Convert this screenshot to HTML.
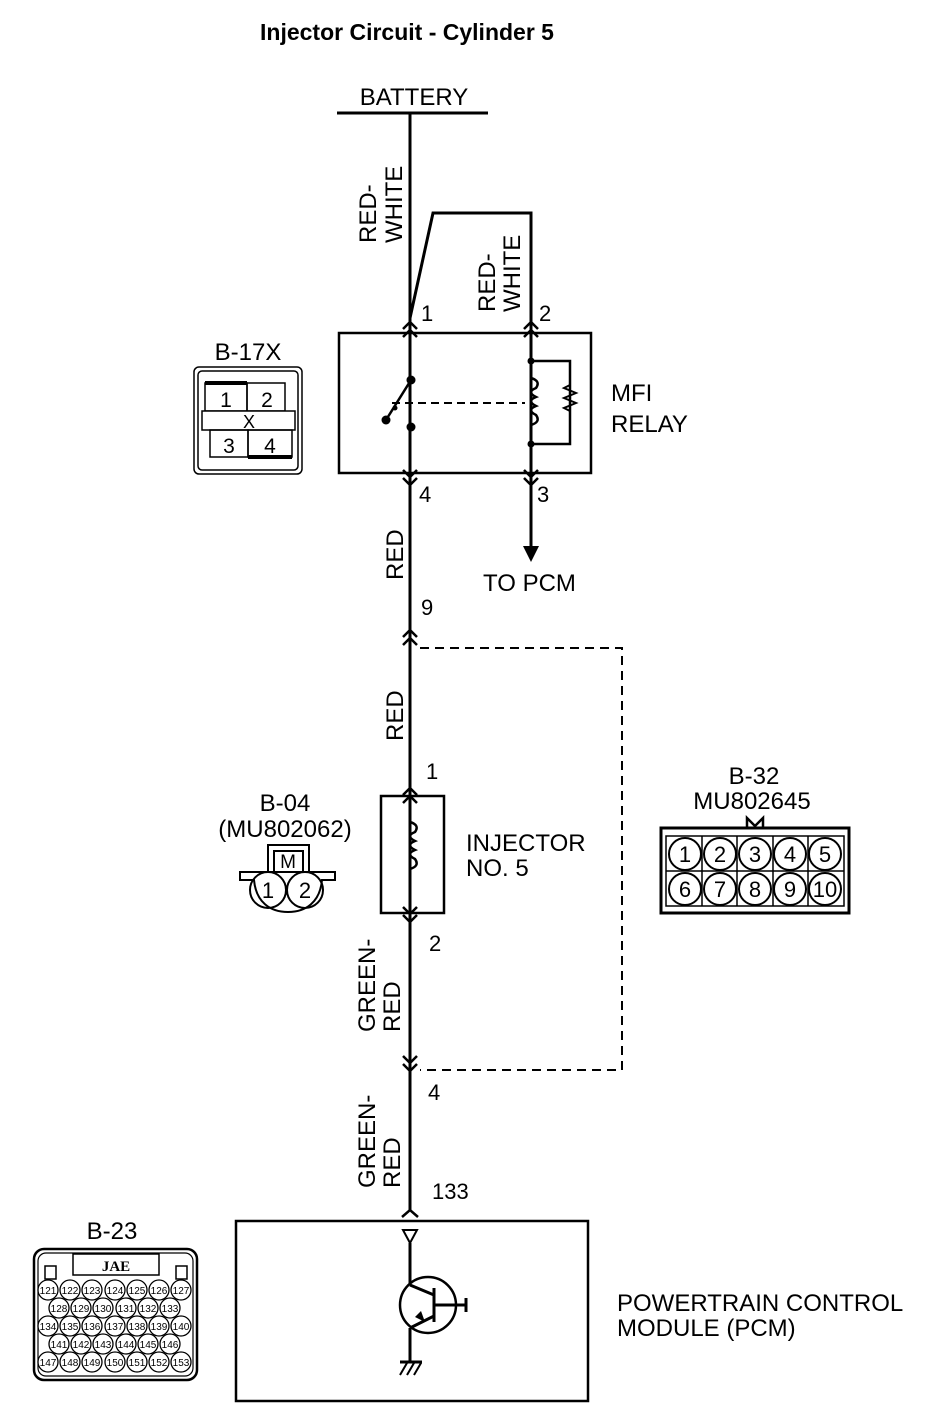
<!DOCTYPE html>
<html><head><meta charset="utf-8"><style>
html,body{margin:0;padding:0;background:#fff}
svg{display:block}
text{font-family:"Liberation Sans",Arial,sans-serif;fill:#000}
</style></head><body>
<svg width="928" height="1420" viewBox="0 0 928 1420" xmlns="http://www.w3.org/2000/svg">
<text x="407" y="40" text-anchor="middle" font-weight="bold" font-size="23">Injector Circuit - Cylinder 5</text>
<text x="414" y="105" text-anchor="middle" font-size="24">BATTERY</text>
<g stroke="#000" stroke-width="3" fill="none">
<line x1="337" y1="113" x2="488" y2="113"/>
<line x1="410" y1="113" x2="410" y2="473"/>
<polyline points="410,318 433,213 531,213 531,473"/>
<rect x="339" y="333" width="252" height="140" stroke-width="2.5"/>
<polyline points="403,329 410,322 417,329" stroke-width="2.5"/>
<polyline points="403,337 410,330 417,337" stroke-width="2.5"/>
<polyline points="524,329 531,322 538,329" stroke-width="2.5"/>
<polyline points="524,337 531,330 538,337" stroke-width="2.5"/>
<polyline points="403,470 410,477 417,470" stroke-width="2.5"/>
<polyline points="403,478 410,485 417,478" stroke-width="2.5"/>
<polyline points="524,470 531,477 538,470" stroke-width="2.5"/>
<polyline points="524,478 531,485 538,478" stroke-width="2.5"/>
<line x1="386" y1="420" x2="411" y2="380" stroke-width="2.5"/>
<line x1="392" y1="403" x2="525" y2="403" stroke-dasharray="8,5" stroke-width="2"/>
<polyline points="531,361 570,361 570,444 531,444" stroke-width="2.5"/>
<path d="M570,385 l-6,3 l12,5 l-12,5 l12,5 l-12,5 l6,3" stroke-width="2"/>
<line x1="531" y1="473" x2="531" y2="550"/>
<line x1="410" y1="473" x2="410" y2="1210"/>
<polyline points="403,637 410,630 417,637" stroke-width="2.5"/>
<polyline points="403,645 410,638 417,645" stroke-width="2.5"/>
<polyline points="420,648 622,648 622,1070 420,1070" stroke-dasharray="9,6" stroke-width="2"/>
<polyline points="403,1056 410,1063 417,1056" stroke-width="2.5"/>
<polyline points="403,1064 410,1071 417,1064" stroke-width="2.5"/>
<rect x="381" y="796" width="63" height="117" stroke-width="2.5"/>
<polyline points="403,795 410,788 417,795" stroke-width="2.5"/>
<polyline points="403,803 410,796 417,803" stroke-width="2.5"/>
<polyline points="403,907 410,914 417,907" stroke-width="2.5"/>
<polyline points="403,915 410,922 417,915" stroke-width="2.5"/>
<polyline points="402,1217 410,1210 418,1217" stroke-width="2.5"/>
<rect x="236" y="1221" width="352" height="180" stroke-width="2.5"/>
<polygon points="403,1230 417,1230 410,1243" stroke-width="2"/>
<line x1="410" y1="1243" x2="410" y2="1285"/>
<circle cx="428" cy="1305" r="28" stroke-width="2.5"/>
<line x1="410" y1="1285" x2="434" y2="1295"/>
<line x1="434" y1="1288" x2="434" y2="1322"/>
<line x1="434" y1="1305" x2="466" y2="1305"/>
<line x1="466" y1="1298" x2="466" y2="1312"/>
<line x1="434" y1="1316" x2="410" y2="1328"/>
<line x1="410" y1="1328" x2="410" y2="1362"/>
<line x1="400" y1="1362" x2="422" y2="1362"/>
<path d="M400,1375 l7,-12 M407,1375 l7,-12 M414,1375 l7,-12" stroke-width="2"/>
</g>
<g stroke="#000" stroke-width="2.5" fill="none">
<path d="M531,333 V378 q10,3 5,10 q-10,4 0,9 q-10,4 0,9 q-10,4 0,9 q5,7 -5,10 V473"/>
<path d="M410,796 V822 q10,3 5,10 q-10,4 0,9 q-10,4 0,9 q-10,4 0,9 q5,7 -5,10 V913"/>
</g>
<g fill="#000">
<circle cx="531" cy="361" r="3.5"/><circle cx="531" cy="444" r="3.5"/>
<circle cx="411" cy="380" r="4.5"/><circle cx="411" cy="427" r="4.5"/><circle cx="386" cy="420" r="4.5"/>
<circle cx="395" cy="408" r="2.5"/>
<polygon points="523,546 539,546 531,562"/>
<polygon points="415,1317 425,1322 421,1311"/>
</g>
<g font-size="22">
<text x="421" y="321">1</text><text x="539" y="321">2</text>
<text x="419" y="502">4</text><text x="537" y="502">3</text>
<text x="421" y="615">9</text>
<text x="426" y="779">1</text><text x="429" y="951">2</text>
<text x="428" y="1100">4</text><text x="432" y="1199">133</text>
</g>
<g font-size="24">
<text x="483" y="591">TO PCM</text>
<text x="611" y="401">MFI</text><text x="611" y="432">RELAY</text>
<text x="466" y="851">INJECTOR</text><text x="466" y="876">NO. 5</text>
<text x="617" y="1311">POWERTRAIN CONTROL</text><text x="617" y="1336">MODULE (PCM)</text>
<g transform="rotate(-90)">
<text x="-243" y="376">RED-</text><text x="-243" y="402">WHITE</text>
<text x="-312" y="495">RED-</text><text x="-312" y="520">WHITE</text>
<text x="-580" y="403">RED</text>
<text x="-741" y="403">RED</text>
<text x="-1032" y="375">GREEN-</text><text x="-1032" y="400">RED</text>
<text x="-1188" y="375">GREEN-</text><text x="-1188" y="400">RED</text>
</g>
<text x="248" y="360" text-anchor="middle">B-17X</text>
<text x="285" y="811" text-anchor="middle">B-04</text>
<text x="285" y="837" text-anchor="middle">(MU802062)</text>
<text x="754" y="784" text-anchor="middle">B-32</text>
<text x="752" y="809" text-anchor="middle">MU802645</text>
<text x="112" y="1239" text-anchor="middle">B-23</text>
</g>
<g stroke="#000" fill="none" stroke-width="1.5">
<rect x="194" y="367" width="108" height="107" rx="5"/>
<rect x="198" y="371" width="100" height="99" rx="4"/>
<rect x="205" y="383" width="42" height="28"/><rect x="247" y="383" width="38" height="28"/>
<rect x="202" y="411" width="93" height="19" fill="#fff"/>
<rect x="210" y="430" width="38" height="27"/><rect x="248" y="430" width="44" height="27"/>
</g>
<line x1="205" y1="383" x2="247" y2="383" stroke="#000" stroke-width="4"/>
<line x1="248" y1="457" x2="292" y2="457" stroke="#000" stroke-width="4"/>
<g font-size="21" text-anchor="middle">
<text x="226" y="407">1</text><text x="267" y="407">2</text>
<text x="249" y="428" font-size="18">X</text>
<text x="229" y="453">3</text><text x="270" y="453">4</text>
</g>
<g stroke="#000" fill="none" stroke-width="2">
<rect x="268" y="845" width="41" height="27"/>
<rect x="274" y="851" width="29" height="21"/>
<path d="M240,872 H335 V880 H322 C320,902 306,912 288,912 C270,912 256,902 254,880 H240 Z" fill="#fff"/>
<circle cx="268" cy="890" r="18"/><circle cx="305" cy="890" r="18"/>
</g>
<g font-size="22" text-anchor="middle">
<text x="288" y="868" font-size="19">M</text>
<text x="268" y="898">1</text><text x="305" y="898">2</text>
</g>
<g stroke="#000" fill="none" stroke-width="2">
<rect x="661" y="828" width="188" height="85" stroke-width="3"/>
<rect x="666" y="836" width="178" height="70" stroke-width="1.5"/>
<path d="M747,828 V818 L755,826 L763,818 V828" stroke-width="2.5"/>
<line x1="666" y1="871" x2="844" y2="871" stroke-width="1.5"/>
<line x1="702" y1="836" x2="702" y2="906" stroke-width="1.5"/>
<line x1="737" y1="836" x2="737" y2="906" stroke-width="1.5"/>
<line x1="773" y1="836" x2="773" y2="906" stroke-width="1.5"/>
<line x1="808" y1="836" x2="808" y2="906" stroke-width="1.5"/>
<g fill="#fff">
<circle cx="685" cy="854" r="16"/><circle cx="720" cy="854" r="16"/><circle cx="755" cy="854" r="16"/><circle cx="790" cy="854" r="16"/><circle cx="825" cy="854" r="16"/>
<circle cx="685" cy="889" r="16"/><circle cx="720" cy="889" r="16"/><circle cx="755" cy="889" r="16"/><circle cx="790" cy="889" r="16"/><circle cx="825" cy="889" r="16"/>
</g>
</g>
<g font-size="22" text-anchor="middle">
<text x="685" y="862">1</text><text x="720" y="862">2</text><text x="755" y="862">3</text><text x="790" y="862">4</text><text x="825" y="862">5</text>
<text x="685" y="897">6</text><text x="720" y="897">7</text><text x="755" y="897">8</text><text x="790" y="897">9</text><text x="825" y="897">10</text>
</g>
<g stroke="#000" fill="none" stroke-width="2.5">
<rect x="34" y="1249" width="163" height="131" rx="10"/>
<rect x="38" y="1253" width="155" height="123" rx="8" stroke-width="1.2"/>
<rect x="73" y="1254" width="86" height="21" stroke-width="1.5"/>
<rect x="45" y="1266" width="11" height="13" stroke-width="1.5"/>
<rect x="176" y="1266" width="11" height="13" stroke-width="1.5"/>
</g>
<text x="116" y="1271" text-anchor="middle" font-size="15" font-weight="bold" style="font-family:'Liberation Serif',serif">JAE</text>
<g stroke="#000" stroke-width="1.3" fill="#fff">
<circle cx="48" cy="1290" r="10"/><circle cx="70" cy="1290" r="10"/><circle cx="92" cy="1290" r="10"/><circle cx="115" cy="1290" r="10"/><circle cx="137" cy="1290" r="10"/><circle cx="159" cy="1290" r="10"/><circle cx="181" cy="1290" r="10"/>
<circle cx="59" cy="1308" r="10"/><circle cx="81" cy="1308" r="10"/><circle cx="103" cy="1308" r="10"/><circle cx="126" cy="1308" r="10"/><circle cx="148" cy="1308" r="10"/><circle cx="170" cy="1308" r="10"/>
<circle cx="48" cy="1326" r="10"/><circle cx="70" cy="1326" r="10"/><circle cx="92" cy="1326" r="10"/><circle cx="115" cy="1326" r="10"/><circle cx="137" cy="1326" r="10"/><circle cx="159" cy="1326" r="10"/><circle cx="181" cy="1326" r="10"/>
<circle cx="59" cy="1344" r="10"/><circle cx="81" cy="1344" r="10"/><circle cx="103" cy="1344" r="10"/><circle cx="126" cy="1344" r="10"/><circle cx="148" cy="1344" r="10"/><circle cx="170" cy="1344" r="10"/>
<circle cx="48" cy="1362" r="10"/><circle cx="70" cy="1362" r="10"/><circle cx="92" cy="1362" r="10"/><circle cx="115" cy="1362" r="10"/><circle cx="137" cy="1362" r="10"/><circle cx="159" cy="1362" r="10"/><circle cx="181" cy="1362" r="10"/>
</g>
<g font-size="10" text-anchor="middle">
<text x="48" y="1294">121</text><text x="70" y="1294">122</text><text x="92" y="1294">123</text><text x="115" y="1294">124</text><text x="137" y="1294">125</text><text x="159" y="1294">126</text><text x="181" y="1294">127</text>
<text x="59" y="1312">128</text><text x="81" y="1312">129</text><text x="103" y="1312">130</text><text x="126" y="1312">131</text><text x="148" y="1312">132</text><text x="170" y="1312">133</text>
<text x="48" y="1330">134</text><text x="70" y="1330">135</text><text x="92" y="1330">136</text><text x="115" y="1330">137</text><text x="137" y="1330">138</text><text x="159" y="1330">139</text><text x="181" y="1330">140</text>
<text x="59" y="1348">141</text><text x="81" y="1348">142</text><text x="103" y="1348">143</text><text x="126" y="1348">144</text><text x="148" y="1348">145</text><text x="170" y="1348">146</text>
<text x="48" y="1366">147</text><text x="70" y="1366">148</text><text x="92" y="1366">149</text><text x="115" y="1366">150</text><text x="137" y="1366">151</text><text x="159" y="1366">152</text><text x="181" y="1366">153</text>
</g>
</svg>
</body></html>
